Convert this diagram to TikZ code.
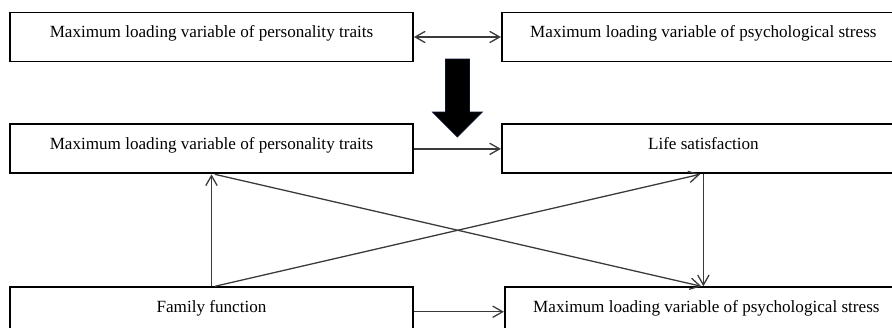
\documentclass[tikz,border=0pt]{standalone}
\usepackage{fontspec}
\setmainfont{Liberation Serif}
\usetikzlibrary{calc,arrows.meta,positioning}
\definecolor{lineGray}{HTML}{3A3A3A}
\definecolor{arrowNavy}{HTML}{0B1430}

\begin{document}
\begin{tikzpicture}[box/.style={draw=black,line width=1.6pt,fill=white,inner sep=0pt,
        minimum width=12.09cm,minimum height=1.47cm,align=center,text height=0.34cm,text depth=0.3cm,
        font=\fontsize{14.6pt}{17pt}\selectfont},
        link/.style={lineGray,line width=1.1pt,-{Straight Barb[length=0.3cm,width=0.34cm]}},
        twolink/.style={lineGray,line width=1.1pt,{Straight Barb[length=0.3cm,width=0.34cm]}-{Straight Barb[length=0.3cm,width=0.34cm]}}]
        \useasboundingbox (0,0) rectangle (26.76,-9.81);
        % before
        \node[box] (pers1) at (6.345,-1.11) {Maximum loading variable of personality traits};
        \node[box,right=2.61cm of pers1] (stress1) {Maximum loading variable of psychological stress};
        \draw[twolink] (pers1)--(stress1);
        % big arrow between the two parts
        \coordinate (mid) at ($(pers1.east)!0.5!(stress1.west)$);
        \fill[black,draw=arrowNavy,line width=0.6pt] ([xshift=-0.36cm,yshift=-0.66cm]mid) -- ++(0.72,0) -- ++(0,-1.59)
            -- ++(0.39,0) -- ++(-0.75,-0.75) -- ++(-0.75,0.75) -- ++(0.39,0) -- cycle;
        % after
        \node[box,below=1.83cm of pers1] (pers2) {Maximum loading variable of personality traits};
        \node[box,right=2.61cm of pers2] (life) {Life satisfaction};
        \node[box,below=3.36cm of pers2] (fam) {Family function};
        \node[box,right=2.7cm of fam] (stress2) {Maximum loading variable of psychological stress};
        \draw[link] (pers2)--(life); \draw[link] (fam)--(stress2);
        \draw[link] (fam.north)--(pers2.south);
        \draw[link] ([xshift=0.1cm]fam.north)--([xshift=-0.1cm]life.south);
        \draw[link] ([xshift=0.1cm]pers2.south)--([xshift=-0.15cm]stress2.north);
        \draw[link] (life.south)--(life.south |- stress2.north);
    \end{tikzpicture}
\end{document}
